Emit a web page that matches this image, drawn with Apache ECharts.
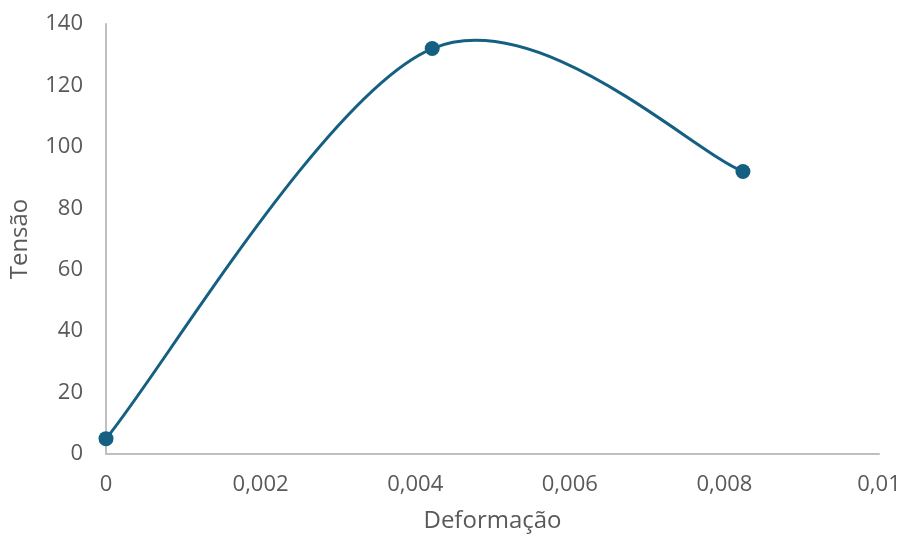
<!DOCTYPE html>
<html>
<head>
<meta charset="utf-8">
<script src="https://cdn.jsdelivr.net/npm/echarts@6/dist/echarts.min.js"></script>
<style>
html,body{margin:0;padding:0;background:#fff;}
#chart{width:903px;height:538px;}
</style>
</head>
<body>
<div id="chart"></div>
<script>
// Data
var deformacao = [0, 0.00422, 0.00824];
var tensao = [5, 132, 92];
var xTicks = [0, 0.002, 0.004, 0.006, 0.008, 0.01];
var yTicks = [0, 20, 40, 60, 80, 100, 120, 140];
var xTitle = 'Deformação';
var yTitle = 'Tensão';

var points = deformacao.map(function (x, i) { return [x, tensao[i]]; });

var LINE_COLOR = '#156082';
var TEXT_COLOR = '#595959';
var AXIS_COLOR = '#bfbfbf';
var FONT = '"Open Sans", sans-serif';

function fmt(v) {
  return String(Number(v.toFixed(4))).replace('.', ',');
}

// Excel-style smoothed segment between point i and i+1
function renderSegment(params, api) {
  var i = params.dataIndexInside;
  var n = params.dataInsideLength;
  if (i >= n - 1) return null;
  function pt(k) {
    k = Math.max(0, Math.min(n - 1, k));
    return api.coord([api.value(0, k), api.value(1, k)]);
  }
  var p0 = pt(i - 1), p1 = pt(i), p2 = pt(i + 1), p3 = pt(i + 2);
  var t = 1 / 6;
  return {
    type: 'bezierCurve',
    shape: {
      x1: p1[0], y1: p1[1],
      x2: p2[0], y2: p2[1],
      cpx1: p1[0] + (p2[0] - p0[0]) * t,
      cpy1: p1[1] + (p2[1] - p0[1]) * t,
      cpx2: p2[0] - (p3[0] - p1[0]) * t,
      cpy2: p2[1] - (p3[1] - p1[1]) * t
    },
    style: { stroke: LINE_COLOR, fill: null, lineWidth: 3 }
  };
}

var chart = echarts.init(document.getElementById('chart'), null, { renderer: 'canvas' });
chart.setOption({
  animation: false,
  backgroundColor: '#ffffff',
  textStyle: { fontFamily: FONT },
  grid: { left: 106, right: 24, top: 24, bottom: 84, containLabel: false, outerBoundsMode: 'none' },
  xAxis: {
    type: 'value',
    min: xTicks[0],
    max: xTicks[xTicks.length - 1],
    interval: xTicks[1] - xTicks[0],
    name: xTitle,
    nameLocation: 'middle',
    nameGap: 55,
    nameTextStyle: { color: TEXT_COLOR, fontSize: 24, fontFamily: FONT },
    axisLine: { show: true, lineStyle: { color: AXIS_COLOR, width: 2 } },
    axisTick: { show: false },
    splitLine: { show: false },
    axisLabel: { color: TEXT_COLOR, fontSize: 22, fontFamily: FONT, margin: 20, formatter: fmt }
  },
  yAxis: {
    type: 'value',
    min: yTicks[0],
    max: yTicks[yTicks.length - 1],
    interval: yTicks[1] - yTicks[0],
    name: yTitle,
    nameLocation: 'middle',
    nameGap: 74,
    nameRotate: 90,
    nameTextStyle: { color: TEXT_COLOR, fontSize: 24, fontFamily: FONT },
    axisLine: { show: true, lineStyle: { color: AXIS_COLOR, width: 2 } },
    axisTick: { show: false },
    splitLine: { show: false },
    axisLabel: { color: TEXT_COLOR, fontSize: 22, fontFamily: FONT, margin: 23 }
  },
  series: [
    {
      type: 'custom',
      data: points,
      renderItem: renderSegment,
      encode: { x: 0, y: 1 },
      z: 2,
      silent: true
    },
    {
      type: 'scatter',
      data: points,
      symbol: 'circle',
      symbolSize: 15,
      itemStyle: { color: LINE_COLOR, opacity: 1 },
      z: 3
    }
  ]
});
</script>
</body>
</html>
